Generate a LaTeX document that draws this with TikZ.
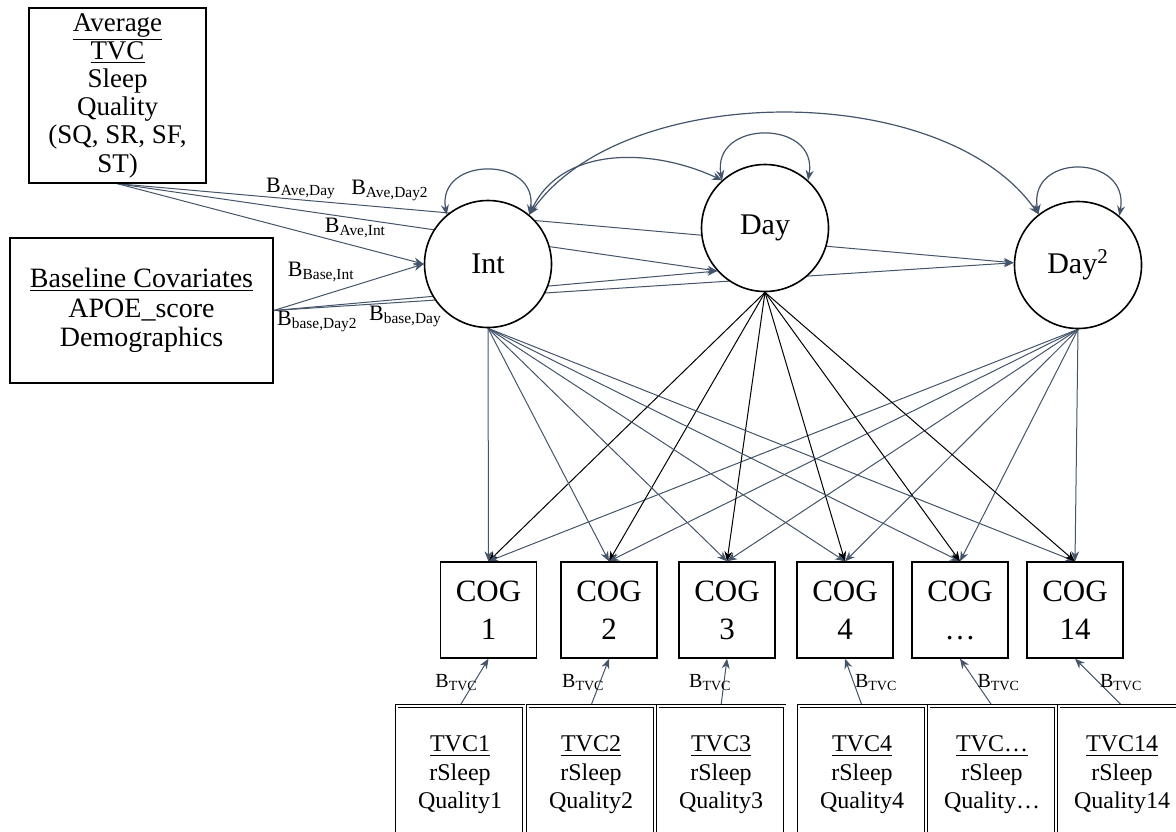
\documentclass[tikz,border=0pt]{standalone}
\usepackage{fontspec}
\setmainfont{Liberation Serif}
\usetikzlibrary{arrows.meta,backgrounds}
\definecolor{slate}{RGB}{68,84,106}

\begin{document}
\begin{tikzpicture}[x=0.5pt,y=0.5pt,
    latent/.style={draw,circle,line width=0.8pt,fill=white,minimum size=63.5pt,inner sep=0pt,font=\fontsize{15}{18}\selectfont},
    obsbox/.style={draw,rectangle,line width=0.7pt,fill=white,align=center,inner sep=0pt},
    cogbox/.style={obsbox,minimum width=48pt,minimum height=48pt,font=\fontsize{15.5}{19}\selectfont},
    tvcbox/.style={obsbox,double,double distance=1pt,line width=0.45pt,minimum width=63.5pt,minimum height=69pt,font=\fontsize{12}{14.3}\selectfont},
    regarrow/.style={slate,line width=0.5pt,-{Stealth[length=5pt,width=4pt]}},
    covarrow/.style={slate,line width=0.6pt,{Stealth[length=5pt,width=4pt]}-{Stealth[length=5pt,width=4pt]}},
    coef/.style={black,font=\fontsize{11}{12}\selectfont,inner sep=0pt}]

    \useasboundingbox (0,0) rectangle (1176,-831);
    \clip (0,0) rectangle (1176,-831);

    % predictors
    \node[obsbox,minimum width=88.5pt,minimum height=87.5pt,font=\fontsize{13.5}{14.1}\selectfont] (Avg) at (117.5,-95.5)
        {\underline{Average}\\\underline{TVC}\\Sleep\\Quality\\(SQ, SR, SF,\\ST)};
    \node[obsbox,minimum width=131.5pt,minimum height=72.5pt,font=\fontsize{14}{14.7}\selectfont] (Base) at (141.5,-310.5)
        {\underline{Baseline Covariates}\\APOE\_score\\Demographics};

    % growth factors
    \node[latent] (Int) at (488,-264) {Int};
    \node[latent] (Day) at (765,-228) {Day};
    \node[latent] (Day2) at (1078,-265) {Day\textsuperscript{2}};

    % outcomes and time-varying covariates
    \foreach \cx/\tx/\n [count=\i] in {488.5/460/1, 609/591/2, 727/721/3, 845/862/4, 960/992/…, 1075/1122/14} {
        \node[cogbox] (COG\i) at (\cx,-610) {COG\\\n};
        \node[tvcbox] (TVC\i) at (\tx,-775) {\underline{TVC\n}\\rSleep\\Quality\n};
    }

    \begin{scope}[on background layer]
        \draw[regarrow] (Avg.south) -- node[coef,pos=0.306,yshift=11pt]{B\textsubscript{Ave,Day}} (Day.222);
        \draw[regarrow] (Avg.south) -- node[coef,pos=0.304,yshift=8.5pt]{B\textsubscript{Ave,Day2}} (Day2.178);
        \draw[regarrow] (Avg.south) -- node[coef,pos=0.777,yshift=9pt]{B\textsubscript{Ave,Int}} (Int.west);
        \draw[regarrow] (Base.east) -- node[coef,pos=0.317,yshift=12pt]{B\textsubscript{Base,Int}} (Int.west);
        \draw[regarrow] (Base.east) -- node[coef,pos=0.059,yshift=-7pt]{B\textsubscript{base,Day2}} (Day2.178);
        \draw[regarrow] (Base.east) -- node[coef,pos=0.297,yshift=-9pt]{B\textsubscript{base,Day}} (Day.222);

        \draw[covarrow] (Int.130) .. controls +(100:60) and +(80:60) .. (Int.50); % variances
        \draw[covarrow] (Day.132) .. controls +(100:62) and +(80:62) .. (Day.48);
        \draw[covarrow] (Day2.128) .. controls +(100:63) and +(80:63) .. (Day2.50);
        \draw[covarrow] (Int.50) to[out=65,in=155] (Day.132); % covariances
        \draw[covarrow] (Int.50) to[out=55,in=125,looseness=0.83] (Day2.128);

        \foreach \i in {1,...,6} {
            \draw[regarrow] (Int.south) -- (COG\i.north);
            \draw[regarrow,black] (Day.south) -- (COG\i.north);
            \draw[regarrow] (Day2.south) -- (COG\i.north);
        }

        \foreach \i/\side/\dx in {1/left/2pt, 2/left/2.5pt, 3/left/4pt, 4/right/0.5pt, 5/right/0.5pt, 6/right/0.5pt}
            \draw[regarrow] (TVC\i.north) -- node[coef,font=\fontsize{10}{11}\selectfont,\side=0pt,xshift=\dx]{B\textsubscript{TVC}} (COG\i.south);
    \end{scope}

\end{tikzpicture}
\end{document}
